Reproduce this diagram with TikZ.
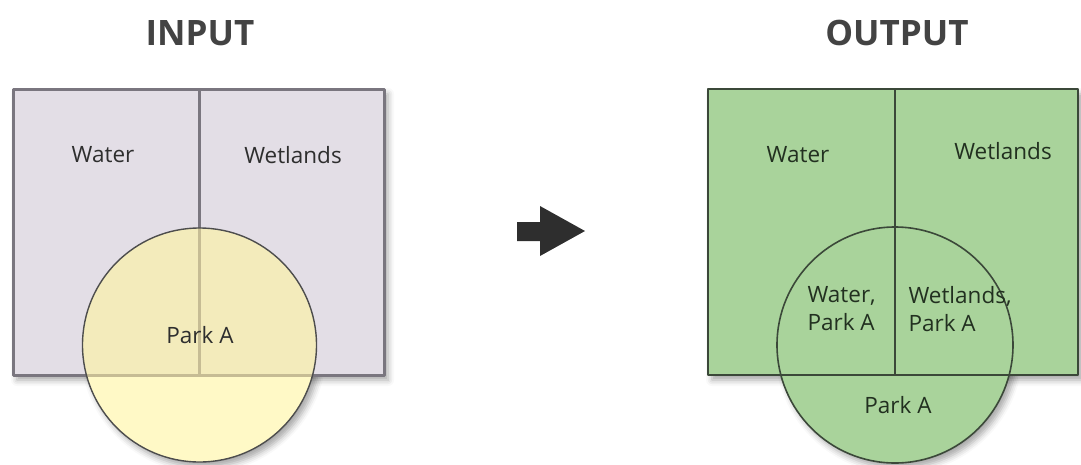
\documentclass[tikz,border=0pt]{standalone}
\usepackage{fontspec}
\setmainfont{Open Sans}
\usetikzlibrary{shadows.blur}

\begin{document}
\begin{tikzpicture}[x=1pt,y=-1pt, line join=round]
  \definecolor{Ink}{HTML}{2E2E2E}
  \definecolor{Lilac}{HTML}{E3DEE6}
  \definecolor{LilacEdge}{HTML}{7A767F}
  \definecolor{PaleYellow}{HTML}{FFF9C6}
  \definecolor{DeepYellow}{HTML}{F3EBBB}
  \definecolor{TanLine}{HTML}{C6BC94}
  \definecolor{Leaf}{HTML}{A9D39B}
  \definecolor{LeafEdge}{HTML}{3B4839}
  \definecolor{LeafInk}{HTML}{223020}

  \tikzset{
    softshadow/.style={blur shadow={shadow xshift=4pt, shadow yshift=-5pt,
      shadow blur radius=6pt, shadow opacity=35}},
    title/.style={font=\fontsize{35}{37}\selectfont\bfseries, text=Ink!90},
    label/.style={font=\fontsize{22.5}{28}\selectfont, text=Ink},
    outlabel/.style={label, text=LeafInk, align=left}
  }

  \useasboundingbox (0,0) rectangle (1081,464);

  % Input panel
  \node[title] (intitle) at (200,33) {INPUT};
  \path[softshadow] (13,89) rectangle (384,375);
  \path[softshadow] (199.5,345) circle (117);
  \fill[Lilac] (13,89) rectangle (384,375);
  \fill[PaleYellow] (199.5,345) circle (117);
  \begin{scope}
    \clip (199.5,345) circle (117);
    \fill[DeepYellow] (13,89) rectangle (384,375);
  \end{scope}
  \draw[LilacEdge, line width=3pt] (13,89) rectangle (384,375);
  \draw[LilacEdge, line width=3pt] (199,89) -- (199,375);
  \begin{scope}
    \clip (199.5,345) circle (117);
    \draw[TanLine, line width=3pt] (13,375) -- (384,375);
    \draw[TanLine, line width=3pt] (199,89) -- (199,375);
  \end{scope}
  \draw[Ink!85, line width=1.4pt] (199.5,345) circle (117);
  \node[label] (inwater) at (103,155) {Water};
  \node[label] (inwetlands) at (293,155) {Wetlands};
  \node[label] (inpark) at (200,335) {Park A};

  % Arrow
  \fill[Ink] (517,222) -- (540,222) -- (540,206) -- (585,231)
    -- (540,256) -- (540,241) -- (517,241) -- cycle;

  % Output panel
  \node[title] (outtitle) at (897,33) {OUTPUT};
  \path[softshadow] (708,89) rectangle (1078,375);
  \path[softshadow] (895,345) circle (118);
  \fill[Leaf] (708,89) rectangle (1078,375);
  \fill[Leaf] (895,345) circle (118);
  \draw[LeafEdge, line width=2pt] (708,89) rectangle (1078,375);
  \draw[LeafEdge, line width=2pt] (895,89) -- (895,375);
  \draw[LeafEdge, line width=1.6pt] (895,345) circle (118);
  \node[label, text=LeafInk] (outwater) at (798,155) {Water};
  \node[label, text=LeafInk] (outwetlands) at (1003,151) {Wetlands};
  \node[outlabel, anchor=west] (outwaterpark) at (804,309) {Water,\\Park A};
  \node[outlabel, anchor=west] (outwetpark) at (905,309) {Wetlands,\\Park A};
  \node[label, text=LeafInk] (outpark) at (898,405) {Park A};
\end{tikzpicture}
\end{document}
